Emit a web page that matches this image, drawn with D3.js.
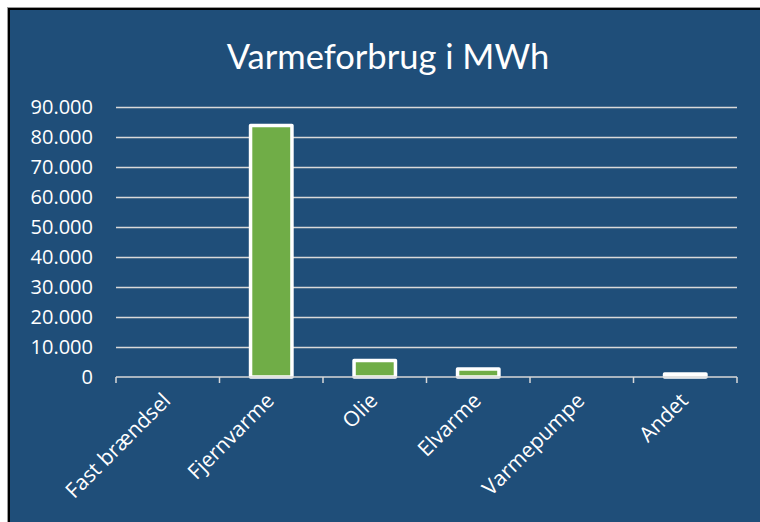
<!DOCTYPE html>
<html>
<head>
<meta charset="utf-8">
<script src="https://cdn.jsdelivr.net/npm/d3@7"></script>
<style>
  html, body { margin: 0; padding: 0; background: #ffffff; }
  svg { display: block; }
</style>
</head>
<body>
<svg id="chart" width="760" height="522"></svg>
<script>
const title = "Varmeforbrug i MWh";
const categories = ["Fast brændsel", "Fjernvarme", "Olie", "Elvarme", "Varmepumpe", "Andet"];
const values = [0, 83800, 5500, 2700, 0, 1000];
const yTicks = [0, 10000, 20000, 30000, 40000, 50000, 60000, 70000, 80000, 90000];

const svg = d3.select("#chart");
const W = 760, H = 522;

// background panel with black border
svg.append("rect").attr("x", 7).attr("y", 7).attr("width", W).attr("height", H)
  .attr("fill", "#9a9a9a");
svg.append("rect").attr("x", 8).attr("y", 8).attr("width", W).attr("height", H)
  .attr("fill", "#000000");
svg.append("rect").attr("x", 10).attr("y", 10).attr("width", W).attr("height", H)
  .attr("fill", "#1F4E79");

const margin = { left: 116, right: 737, top: 107, bottom: 377 };

const x = d3.scaleBand().domain(categories).range([margin.left, margin.right]).paddingInner(0.6).paddingOuter(0.3);
const xb = d3.scaleBand().domain(categories).range([margin.left, margin.right]);
const y = d3.scaleLinear().domain([0, 90000]).range([margin.bottom, margin.top]);

const fmt = v => d3.format(",")(v).replace(/,/g, ".");

// title
svg.append("text")
  .attr("x", 388).attr("y", 69)
  .attr("text-anchor", "middle")
  .attr("font-family", "Lato, 'Open Sans', sans-serif")
  .attr("font-size", 34.5)
  .attr("fill", "#ffffff")
  .text(title);

// gridlines
const grid = svg.append("g").attr("transform", `translate(${margin.left},0)`)
  .call(d3.axisLeft(y).tickValues(yTicks.filter(t => t > 0)).tickSize(-(margin.right - margin.left)).tickFormat(""));
grid.select(".domain").remove();
grid.selectAll("line").attr("stroke", "#D9D9D9").attr("stroke-width", 1.5);

// y labels
const yl = svg.append("g").attr("transform", `translate(${margin.left},0)`)
  .call(d3.axisLeft(y).tickValues(yTicks).tickSize(0).tickPadding(23).tickFormat(fmt));
yl.select(".domain").remove();
yl.selectAll("text")
  .attr("font-family", "'Open Sans', sans-serif")
  .attr("font-size", 20)
  .attr("fill", "#ffffff");

// bars
svg.append("g").selectAll("rect")
  .data(categories.map((c, i) => ({ c, v: values[i] })).filter(d => d.v > 0))
  .join("rect")
  .attr("x", d => x(d.c))
  .attr("width", x.bandwidth())
  .attr("y", d => y(d.v))
  .attr("height", d => y(0) - y(d.v))
  .attr("fill", "#70AD47")
  .attr("stroke", "#ffffff")
  .attr("stroke-width", 3.5)
  .attr("stroke-linejoin", "round");

// x axis
const xa = svg.append("g").attr("transform", `translate(0,${margin.bottom})`)
  .call(d3.axisBottom(xb).tickSize(0).tickFormat(""));
xa.select(".domain").attr("stroke", "#D9D9D9").attr("stroke-width", 1.5).attr("d", `M${margin.left},0H${margin.right}`);
// tick marks on band boundaries
const bounds = categories.map(c => xb(c)).concat([margin.right]);
xa.selectAll(".bt").data(bounds).join("line").attr("class", "bt")
  .attr("x1", d => d).attr("x2", d => d).attr("y1", 0).attr("y2", 6)
  .attr("stroke", "#D9D9D9").attr("stroke-width", 1.5);

// x labels rotated
svg.append("g").selectAll("text")
  .data(categories)
  .join("text")
  .attr("transform", d => `translate(${xb(d) + xb.bandwidth() / 2 + 4},${margin.bottom + 25}) rotate(-45)`)
  .attr("text-anchor", "end")
  .attr("font-family", "'Open Sans', sans-serif")
  .attr("font-size", 21)
  .attr("fill", "#ffffff")
  .text(d => d);
</script>
</body>
</html>
